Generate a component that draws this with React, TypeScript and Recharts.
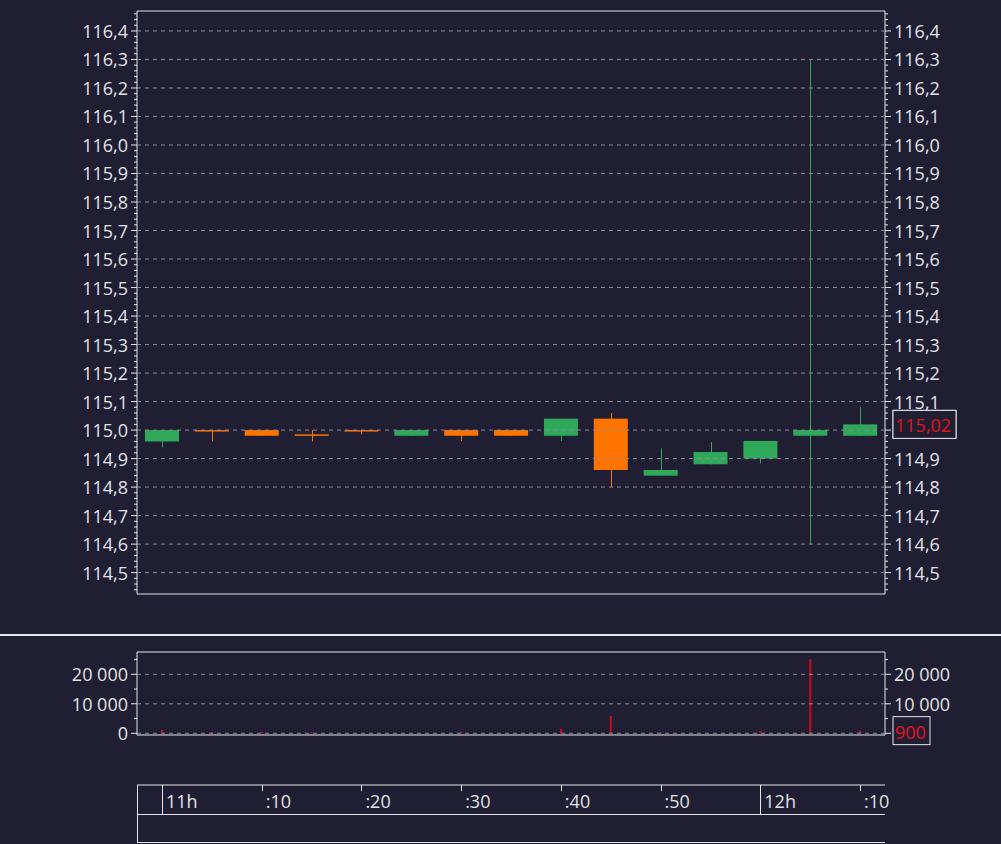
import React from 'react'
import {
  ComposedChart,
  Bar,
  XAxis,
  YAxis,
  ReferenceLine,
  ReferenceArea,
} from 'recharts'

// 5-minute candles, 11:00 -> 12:10
const times = [
  '11:00', '11:05', '11:10', '11:15', '11:20', '11:25', '11:30', '11:35',
  '11:40', '11:45', '11:50', '11:55', '12:00', '12:05', '12:10',
]
const openPrices = [
  114.96, 115.0, 115.0, 114.985, 115.0, 114.98, 115.0, 115.0,
  114.98, 115.04, 114.84, 114.88, 114.9, 114.98, 114.98,
]
const closePrices = [
  115.0, 114.997, 114.98, 114.982, 114.997, 115.0, 114.98, 114.98,
  115.04, 114.86, 114.86, 114.923, 114.962, 115.0, 115.02,
]
const highPrices = [
  115.0, 115.0, 115.0, 115.0, 115.0, 115.0, 115.0, 115.0,
  115.04, 115.06, 114.936, 114.958, 114.962, 116.3, 115.08,
]
const lowPrices = [
  114.94, 114.96, 114.98, 114.96, 114.985, 114.98, 114.962, 114.98,
  114.962, 114.8, 114.84, 114.88, 114.883, 114.6, 114.98,
]
const volumes = [
  1100, 450, 450, 340, 100, 100, 560, 50,
  1460, 5900, 340, 150, 850, 25100, 900,
]

const priceMajorTicks = [
  114.5, 114.6, 114.7, 114.8, 114.9, 115.0, 115.1, 115.2, 115.3, 115.4,
  115.5, 115.6, 115.7, 115.8, 115.9, 116.0, 116.1, 116.2, 116.3, 116.4,
]
const volumeMajorTicks = [0, 10000, 20000]
const volumeMinorTicks = [5000, 15000, 25000]
const timeTicks = ['11:00', '11:10', '11:20', '11:30', '11:40', '11:50', '12:00', '12:10']
const timeLabels = ['11h', ':10', ':20', ':30', ':40', ':50', '12h', ':10']

const lastPrice = 115.02
const lastVolume = 900

const BG = '#1f1e33'
const GREEN = '#2fa85a'
const ORANGE = '#ff7300'
const RED = '#d0061c'
const LABEL_RED = '#e8101e'
const TEXT = '#e2e2e6'
const FRAME = '#e6e6ea'
const GRID = '#8a8a9a'
const FONT = '"Open Sans", "Noto Sans", sans-serif'
const FONT_SIZE = 18

const TICK = 6
const GAP = 3

const candles = times.map((time, i) => ({
  time,
  open: openPrices[i],
  close: closePrices[i],
  high: highPrices[i],
  low: lowPrices[i],
  volume: volumes[i],
}))

const isMajor = (v: number) => Math.abs(v * 10 - Math.round(v * 10)) < 1e-6

// small 0.02 steps between the labelled ticks
const priceMinorTicks: number[] = []
for (let k = 0; k <= 101; k++) {
  const v = Math.round((114.44 + k * 0.02) * 100) / 100
  if (!isMajor(v)) priceMinorTicks.push(v)
}

const fmtPrice = (v: number) => v.toFixed(1).replace('.', ',')
const fmtVolume = (v: number) => String(v).replace(/\B(?=(\d{3})+(?!\d))/g, ' ')

function CandleShape(props: any) {
  const { x, y, width, height, payload } = props
  if (!payload || height == null) return null
  const { open, close, high, low } = payload
  const color = close >= open ? GREEN : ORANGE
  const ppu = height / (high - low)
  const top = y + (high - Math.max(open, close)) * ppu
  const bottom = y + (high - Math.min(open, close)) * ppu
  const cx = Math.round(x + width / 2) + 0.5
  return (
    <g>
      <line x1={cx} x2={cx} y1={y} y2={y + height} stroke={color} strokeWidth={1} />
      <rect x={x} y={top} width={width} height={Math.max(bottom - top, 1.5)} fill={color} />
    </g>
  )
}

function makeAxisTick(
  side: 'left' | 'right',
  isLabelled: (v: number) => boolean,
  fmt: (v: number) => string,
  special?: { value: number; text: string; boxWidth: number },
  hideNear?: number,
) {
  return (props: any) => {
    const { x, y, payload } = props
    const v = payload.value as number
    const edge = side === 'left' ? x + TICK + GAP : x - TICK - GAP
    const dir = side === 'left' ? -1 : 1
    if (special && v === special.value) {
      const bx = edge + 8
      return (
        <g>
          <rect x={bx} y={y - 14} width={special.boxWidth} height={28} fill={BG} stroke={FRAME} strokeWidth={1} />
          <text x={bx + 2} y={y + 1} fill={LABEL_RED} fontSize={FONT_SIZE} fontFamily={FONT} dominantBaseline="central">
            {special.text}
          </text>
        </g>
      )
    }
    const major = isLabelled(v)
    const len = major ? TICK : 3
    const showLabel = major && !(hideNear != null && Math.abs(v - hideNear) < 1e-6)
    return (
      <g>
        <line x1={edge} x2={edge + dir * len} y1={y} y2={y} stroke={FRAME} strokeWidth={1} />
        {showLabel && (
          <text
            x={x}
            y={y}
            fill={TEXT}
            fontSize={FONT_SIZE}
            fontFamily={FONT}
            textAnchor={side === 'left' ? 'end' : 'start'}
            dominantBaseline="central"
          >
            {fmt(v)}
          </text>
        )}
      </g>
    )
  }
}

function TimeTick(props: any) {
  const { x, y, payload } = props
  const idx = timeTicks.indexOf(payload.value)
  const label = timeLabels[idx]
  const hour = label.endsWith('h')
  const lx = Math.round(x) + 0.5
  return (
    <g>
      <line x1={lx} x2={lx} y1={y} y2={y + (hour ? 30 : 6)} stroke={FRAME} strokeWidth={1} />
      <text x={x + 4} y={y + 16} fill={TEXT} fontSize={FONT_SIZE} fontFamily={FONT} dominantBaseline="central">
        {label}
      </text>
    </g>
  )
}

const priceDomain: [number, number] = [114.425, 116.47]
const volumeDomain: [number, number] = [-580, 27560]

export default function App() {
  return (
    <div
      style={{
        position: 'fixed',
        left: 0,
        top: 0,
        width: 1001,
        height: 844,
        background: BG,
        overflow: 'hidden',
        fontFamily: FONT,
      }}
    >
      <div style={{ position: 'absolute', left: 0, top: 0 }}>
        <ComposedChart width={1001} height={600} data={candles} margin={{ top: 11, right: 0, bottom: 6, left: 0 }}>
          <XAxis dataKey="time" hide />
          <YAxis
            yAxisId="left"
            orientation="left"
            width={137}
            domain={priceDomain}
            allowDataOverflow
            ticks={[...priceMinorTicks, ...priceMajorTicks]}
            interval={0}
            axisLine={false}
            tickLine={false}
            tickSize={TICK}
            tickMargin={GAP}
            tick={makeAxisTick('left', isMajor, fmtPrice)}
          />
          <YAxis
            yAxisId="right"
            orientation="right"
            width={116}
            domain={priceDomain}
            allowDataOverflow
            ticks={[...priceMinorTicks, ...priceMajorTicks, lastPrice]}
            interval={0}
            axisLine={false}
            tickLine={false}
            tickSize={TICK}
            tickMargin={GAP}
            tick={makeAxisTick('right', isMajor, fmtPrice, { value: lastPrice, text: '115,02', boxWidth: 63 }, 115.0)}
          />
          {priceMajorTicks.map((v) => (
            <ReferenceLine key={v} yAxisId="left" y={v} stroke={GRID} strokeDasharray="4 4" />
          ))}
          <ReferenceArea
            yAxisId="left"
            y1={priceDomain[0]}
            y2={priceDomain[1]}
            fill="none"
            stroke={FRAME}
            strokeWidth={1}
            ifOverflow="visible"
          />
          <Bar
            yAxisId="left"
            dataKey={(d: any) => [d.low, d.high]}
            barSize={34}
            shape={CandleShape}
            isAnimationActive={false}
          />
        </ComposedChart>
      </div>

      <div style={{ position: 'absolute', left: 0, top: 634, width: 1001, height: 2, background: FRAME }} />

      <div style={{ position: 'absolute', left: 0, top: 640 }}>
        <ComposedChart width={1001} height={110} data={candles} margin={{ top: 12, right: 0, bottom: 15, left: 0 }}>
          <XAxis dataKey="time" hide />
          <YAxis
            yAxisId="left"
            orientation="left"
            width={137}
            domain={volumeDomain}
            allowDataOverflow
            ticks={[...volumeMinorTicks, ...volumeMajorTicks]}
            interval={0}
            axisLine={false}
            tickLine={false}
            tickSize={TICK}
            tickMargin={GAP}
            tick={makeAxisTick('left', (v) => volumeMajorTicks.includes(v), fmtVolume)}
          />
          <YAxis
            yAxisId="right"
            orientation="right"
            width={116}
            domain={volumeDomain}
            allowDataOverflow
            ticks={[...volumeMinorTicks, ...volumeMajorTicks, lastVolume]}
            interval={0}
            axisLine={false}
            tickLine={false}
            tickSize={TICK}
            tickMargin={GAP}
            tick={makeAxisTick(
              'right',
              (v) => volumeMajorTicks.includes(v),
              fmtVolume,
              { value: lastVolume, text: '900', boxWidth: 37 },
              0,
            )}
          />
          {volumeMajorTicks.map((v) => (
            <ReferenceLine key={v} yAxisId="left" y={v} stroke={GRID} strokeDasharray="4 4" />
          ))}
          <ReferenceArea
            yAxisId="left"
            y1={volumeDomain[0]}
            y2={volumeDomain[1]}
            fill="none"
            stroke={FRAME}
            strokeWidth={1}
            ifOverflow="visible"
          />
          <Bar yAxisId="left" dataKey="volume" barSize={2} fill={RED} isAnimationActive={false} />
        </ComposedChart>
      </div>

      {/* time scale box */}
      <div
        style={{
          position: 'absolute',
          left: 137,
          top: 785,
          width: 748,
          height: 58,
          borderLeft: `1px solid ${FRAME}`,
          borderBottom: `1px solid ${FRAME}`,
          boxSizing: 'border-box',
        }}
      />
      <div style={{ position: 'absolute', left: 137, top: 814, width: 748, height: 1, background: FRAME }} />
      <div style={{ position: 'absolute', left: 0, top: 775 }}>
        <ComposedChart width={1001} height={70} data={candles} margin={{ top: 0, right: 116, bottom: 2, left: 137 }}>
          <XAxis
            dataKey="time"
            height={58}
            ticks={timeTicks}
            interval={0}
            tickSize={0}
            tickMargin={0}
            tickLine={false}
            axisLine={{ stroke: FRAME }}
            tick={TimeTick}
          />
          <YAxis hide domain={[0, 1]} />
          <Bar dataKey={() => 0} fill="none" isAnimationActive={false} />
        </ComposedChart>
      </div>
    </div>
  )
}
